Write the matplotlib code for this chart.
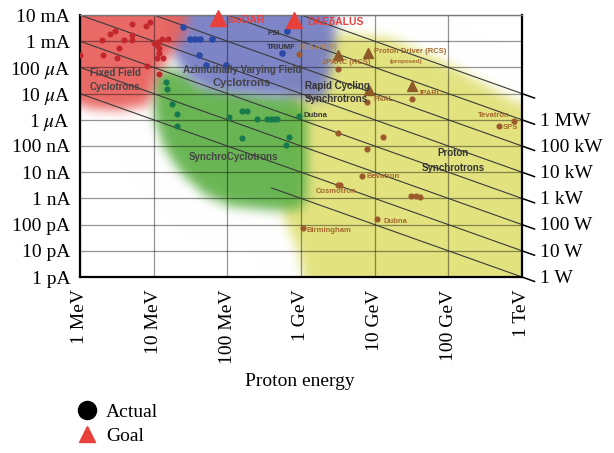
import numpy as np
import matplotlib
matplotlib.use('Agg')
import matplotlib.pyplot as plt
from matplotlib.path import Path
from matplotlib.lines import Line2D
from matplotlib.colors import to_rgb

plt.rcParams['font.family'] = ['Liberation Serif', 'DejaVu Serif']
plt.rcParams['mathtext.fontset'] = 'stix'

# ---------------- data : proton energy (eV), beam current (A)
# fixed field cyclotrons
ffc_E = [1.0e6, 2.0e6, 2.05e6, 2.55e6, 3.0e6, 3.2e6, 3.4e6, 4.0e6, 5.1e6, 5.1e6, 5.1e6, 7.9e6,
         8.9e6, 8.1e6, 1.0e7, 1.1e7, 1.15e7, 1.18e7, 1.18e7, 1.1e7, 1.34e7, 1.18e7, 1.56e7, 1.3e7]
ffc_I = [2.9e-4, 1.1e-3, 2.9e-4, 1.9e-3, 2.5e-3, 2.3e-4, 5.5e-4, 1.1e-3, 4.5e-3, 1.7e-3, 1.1e-3, 3.8e-3,
         5.4e-3, 1.1e-4, 8.5e-4, 7.2e-4, 9.3e-4, 5.5e-4, 3.5e-4, 2.3e-4, 2.3e-4, 5.6e-5, 1.2e-3, 1.2e-3]
# azimuthally varying field cyclotrons
avf_E = [2.5e7, 3.1e7, 3.6e7, 4.2e7, 6.2e7, 4.1e7, 5.1e7, 9.6e7, 6.5e8, 5.5e8]
avf_I = [3.5e-3, 1.2e-3, 1.2e-3, 1.2e-3, 1.2e-3, 2.9e-4, 1.2e-4, 1.2e-4, 2.4e-3, 3.5e-4]
# synchrocyclotrons
sc_E = [1.47e7, 1.5e7, 1.8e7, 2.07e7, 2.07e7, 1.05e8, 1.6e8, 1.85e8, 2.5e8, 3.45e8, 3.9e8,
        4.3e8, 4.7e8, 9.3e8, 1.6e8, 6.9e8, 6.2e8]
sc_I = [2.7e-5, 1.5e-5, 4.0e-6, 1.65e-6, 5.8e-7, 1.3e-6, 2.2e-6, 2.2e-6, 1.07e-6, 1.07e-6, 1.07e-6,
        1.07e-6, 1.07e-6, 1.4e-6, 2.0e-7, 2.2e-7, 1.1e-7]
# proton synchrotrons
ps_E = [9.3e8, 3.2e9, 7.8e9, 3.2e10, 3.2e9, 1.3e10, 7.8e9, 6.8e9, 3.2e9, 3.4e9, 3.1e10, 3.6e10,
        4.1e10, 1.07e10, 1.07e9, 7.8e11, 4.8e11]
ps_I = [3.2e-4, 8.7e-5, 4.8e-6, 6.2e-6, 3.2e-7, 2.2e-7, 7.7e-8, 7.2e-9, 3.2e-9, 3.2e-9, 1.2e-9, 1.2e-9,
        1.1e-9, 1.6e-10, 7.4e-11, 8.9e-7, 5.7e-7]
# synchrotron goals
psg_E = [3.2e9, 8.1e9, 8.3e9, 3.2e10]
psg_I = [3.0e-4, 3.5e-4, 1.4e-5, 1.95e-5]
# cyclotron goals
goal_E = [7.4e7, 8.0e8]
goal_I = [7.7e-3, 6.4e-3]

energy_ticks = [1e6, 1e7, 1e8, 1e9, 1e10, 1e11, 1e12]
energy_labels = ['1 MeV', '10 MeV', '100 MeV', '1 GeV', '10 GeV', '100 GeV', '1 TeV']
current_ticks = [1e-12, 1e-11, 1e-10, 1e-9, 1e-8, 1e-7, 1e-6, 1e-5, 1e-4, 1e-3, 1e-2]
current_labels = ['1 pA', '10 pA', '100 pA', '1 nA', '10 nA', '100 nA',
                  '1 $\\mu$A', '10 $\\mu$A', '100 $\\mu$A', '1 mA', '10 mA']
power_W = [1, 10, 100, 1e3, 1e4, 1e5, 1e6, 1e7]
power_labels = ['1 W', '10 W', '100 W', '1 kW', '10 kW', '100 kW', '1 MW', '']

# region outlines (E, I)
red_zone = [(8.5e5, 1.5e-2), (3.0e7, 1.5e-2), (2.6e7, 1.7e-3), (1.7e7, 3e-4), (1.2e7, 8e-5),
            (9.8e6, 1.4e-5), (8.6e6, 3.7e-6), (3.5e6, 2.4e-6), (1.4e6, 2.6e-6), (8.5e5, 5.8e-6)]
blue_zone = [(1.6e7, 1.5e-2), (2.9e9, 1.5e-2), (2.9e9, 1.1e-3), (2.5e9, 8e-5), (2.1e9, 5.8e-6),
             (7e8, 7.4e-6), (1.5e8, 1.0e-5), (5.5e7, 1.4e-5), (3.0e7, 3.8e-5), (2.1e7, 1.7e-4),
             (1.5e7, 1.1e-3)]
green_zone = [(9.5e6, 3.9e-5), (1.3e7, 9.5e-5), (2.66e7, 6.6e-5), (4.2e7, 2.1e-5), (2.0e8, 1.15e-5),
              (8.5e8, 7.4e-6), (1.2e9, 2.3e-6), (1.2e9, 1.35e-9), (9.7e8, 3.6e-10), (3.8e8, 3.6e-10),
              (1.1e8, 5.1e-10), (5.0e7, 1.35e-9), (2.3e7, 1.0e-8), (1.4e7, 8.4e-8), (1.05e7, 9.8e-7)]
yellow_zone = [(6.6e8, 1.75e-3), (3.4e9, 2.05e-3), (1.6e10, 1.3e-3), (7.7e10, 1.9e-4), (2.7e11, 2.8e-5),
               (1e12, 3.6e-6), (1.5e12, 3.6e-6), (1.5e12, 3e-13), (1.24e9, 3e-13), (9.1e8, 1.07e-11),
               (5.7e8, 2.3e-10), (5.7e8, 9.8e-7), (6.2e8, 1.9e-4)]


def blob(outline, nx, ny, sigma):
    lx = (np.log10([p[0] for p in outline]) - 6) / 6
    ly = (np.log10([p[1] for p in outline]) + 12) / 10
    X, Y = np.meshgrid((np.arange(nx) + 0.5) / nx, (np.arange(ny) + 0.5) / ny)
    m = Path(np.column_stack([lx, ly])).contains_points(
        np.column_stack([X.ravel(), Y.ravel()])).reshape(ny, nx).astype(float)
    ix = np.arange(nx)
    kx = np.exp(-(ix[:, None] - ix[None, :]) ** 2 / (2 * sigma ** 2))
    kx /= kx.sum(1, keepdims=True)
    iy = np.arange(ny)
    ky = np.exp(-(iy[:, None] - iy[None, :]) ** 2 / (2 * sigma ** 2))
    ky /= ky.sum(1, keepdims=True)
    return ky @ m @ kx.T


fig = plt.figure(figsize=(6.14, 4.53), dpi=100)
pos = [80 / 614, 1 - 277 / 453, 442 / 614, 262 / 453]
bg = fig.add_axes(pos, zorder=0)
ax = fig.add_axes(pos, zorder=1)
ax.patch.set_alpha(0)

# blurred coloured regions
nx, ny = 442, 262
rgb = np.ones((ny, nx, 3))
layers = [(yellow_zone, '#e2e27c', 0.97), (green_zone, '#62b24c', 0.95),
          (blue_zone, '#777fc4', 0.95), (red_zone, '#e8625e', 0.95)]
for zone, col, a in layers:
    al = blob(zone, nx, ny, 5.5)[..., None] * a
    rgb = rgb * (1 - al) + np.array(to_rgb(col)) * al
bg.imshow(rgb, origin='lower', extent=(0, 1, 0, 1), aspect='auto', interpolation='bilinear')
bg.axis('off')

ax.set_xscale('log')
ax.set_yscale('log')
ax.set_xlim(1e6, 1e12)
ax.set_ylim(1e-12, 1e-2)
ax.set_xticks(energy_ticks, energy_labels, rotation=90)
ax.set_yticks(current_ticks, current_labels)
ax.minorticks_off()
ax.tick_params(length=0, labelsize=14)
ax.tick_params(axis='x', pad=9)
ax.tick_params(axis='y', pad=7)
ax.grid(True, color='k', alpha=0.42, lw=0.9)
for s in ['left', 'bottom', 'right']:
    ax.spines[s].set_linewidth(1.6)
ax.spines['top'].set_color('#777777')
ax.spines['top'].set_linewidth(1.0)

# constant beam power lines
for P, lab in zip(power_W, power_labels):
    e0 = 4e8 if P == 1 else 1e6
    e = np.logspace(np.log10(e0), 12, 60)
    ax.plot(e, P / e, color='#3a3a3a', lw=0.8, zorder=2)
    et = np.array([1e12, 10 ** 12.17])
    ax.plot(et, P / et, color='k', lw=1.1, clip_on=False, zorder=2)
    if lab:
        ax.text(10 ** 12.24, P / 10 ** 12.05, lab, ha='left', va='center', fontsize=14, clip_on=False)

# points
ax.plot(ffc_E, ffc_I, 'o', color='#c1272d', ms=3.3, zorder=4)
ax.plot(avf_E, avf_I, 'o', color='#2b4aa6', ms=3.8, zorder=4)
ax.plot(sc_E, sc_I, 'o', color='#187a4c', ms=3.4, zorder=4)
ax.plot(ps_E, ps_I, 'o', color='#9c5a2c', ms=3.4, zorder=4)
ax.plot(psg_E, psg_I, '^', color='#8e5a2a', ms=7.5, zorder=4)
ax.plot(goal_E, goal_I, '^', color='#e8413c', ms=11, zorder=5, clip_on=False)

# labels inside the chart
sans = ['Liberation Sans', 'DejaVu Sans']
dark = '#333333'
brown = '#a4682f'
kw = dict(family=sans, fontweight='bold', zorder=6)
ax.text(1.0e8, 6.4e-3, 'IsoDAR', color='#e8413c', fontsize=7.5, va='center', **kw)
ax.text(1.2e9, 5.4e-3, 'DAEδALUS', color='#e8413c', fontsize=7.5, va='center', **kw)
ax.text(5.1e8, 1.9e-3, 'PSI', color=dark, fontsize=5.5, va='center', ha='right', **kw)
ax.text(3.5e8, 6e-4, 'TRIUMF', color=dark, fontsize=5.5, va='center', **kw)
ax.text(9.3e8, 6e-4, 'ISIS (RCS)', color='#b88a58', fontsize=5.5, va='center', **kw)
ax.text(1.9e9, 1.6e-4, 'JPARC (RCS)', color=brown, fontsize=5.5, va='center', **kw)
ax.text(9.8e9, 3.9e-4, 'Proton Driver (RCS)', color=brown, fontsize=5.5, va='center', **kw)
ax.text(2.7e10, 1.7e-4, '(proposed)', color=brown, fontsize=4.5, va='center', ha='center', **kw)
ax.text(3.9e10, 1.05e-5, 'JPARC', color=brown, fontsize=5.5, va='center', **kw)
ax.text(9.6e9, 6.2e-6, 'FNAL', color=brown, fontsize=5.5, va='center', **kw)
ax.text(1.12e9, 1.95e-5, 'Rapid Cycling', color=dark, fontsize=7, va='center', **kw)
ax.text(1.12e9, 6.2e-6, 'Synchrotrons', color=dark, fontsize=7, va='center', **kw)
ax.text(1.07e9, 1.4e-6, 'Dubna', color=dark, fontsize=5.5, va='center', **kw)
ax.text(2.5e11, 1.4e-6, 'Tevatron', color=brown, fontsize=5.5, va='center', **kw)
ax.text(5.4e11, 4.9e-7, 'SPS', color=brown, fontsize=5.5, va='center', **kw)
ax.text(1.17e11, 5.4e-8, 'Proton', color=dark, fontsize=7, va='center', ha='center', **kw)
ax.text(1.17e11, 1.45e-8, 'Synchrotrons', color=dark, fontsize=7, va='center', ha='center', **kw)
ax.text(7.8e9, 6.6e-9, 'Bevatron', color=brown, fontsize=5.5, va='center', **kw)
ax.text(1.6e9, 1.9e-9, 'Cosmotron', color=brown, fontsize=5.5, va='center', **kw)
ax.text(1.3e10, 1.26e-10, 'Dubna', color=brown, fontsize=5.5, va='center', **kw)
ax.text(1.17e9, 5.7e-11, 'Birmingham', color=brown, fontsize=5.5, va='center', **kw)
ax.text(3.0e6, 6.2e-5, 'Fixed Field', color='#444444', fontsize=7, va='center', ha='center', **kw)
ax.text(3.0e6, 1.8e-5, 'Cyclotrons', color='#444444', fontsize=7, va='center', ha='center', **kw)
ax.text(1.6e8, 7.9e-5, 'Azimuthally Varying Field', color='#444444', fontsize=7, va='center', ha='center', **kw)
ax.text(1.55e8, 2.5e-5, 'Cyclotrons', color='#444444', fontsize=8, va='center', ha='center', **kw)
ax.text(1.2e8, 3.8e-8, 'SynchroCyclotrons', color='#444444', fontsize=7, va='center', ha='center', **kw)

fig.text(300 / 614, 1 - 381 / 453, 'Proton energy', ha='center', va='center', fontsize=14)

handles = [Line2D([], [], ls='none', marker='o', color='k', ms=13),
           Line2D([], [], ls='none', marker='^', color='#e8413c', ms=12)]
fig.legend(handles, ['Actual', 'Goal'], loc='center left', bbox_to_anchor=(75 / 614, 1 - 424 / 453),
           frameon=False, fontsize=14, labelspacing=0.35, handletextpad=0.4, borderpad=0,
           borderaxespad=0, handlelength=1.2)

fig.savefig('out.png', dpi=100)
